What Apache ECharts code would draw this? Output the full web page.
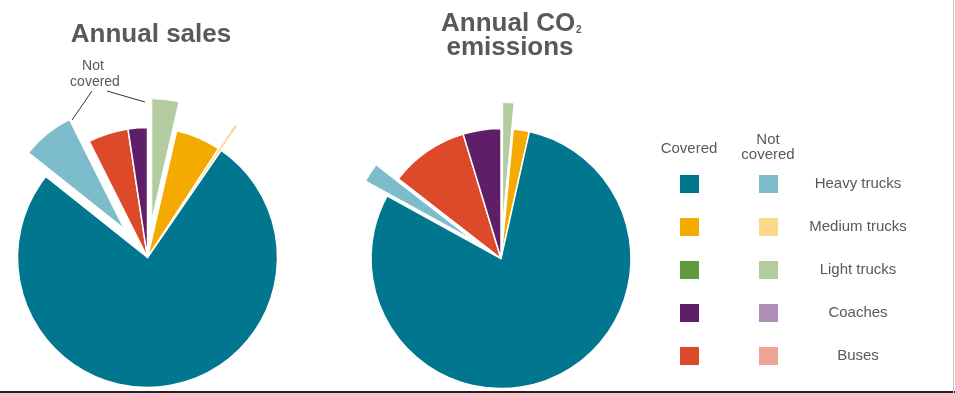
<!DOCTYPE html>
<html>
<head>
<meta charset="utf-8">
<script src="https://cdn.jsdelivr.net/npm/echarts@6/dist/echarts.min.js"></script>
<style>
html,body{margin:0;padding:0;background:#fff;}
#chart{width:955px;height:393px;}
</style>
</head>
<body>
<div id="chart"></div>
<script>
// ---- data ----
const categories = ['Heavy trucks', 'Medium trucks', 'Light trucks', 'Coaches', 'Buses'];
const coveredColors = ['#00778F', '#F4AA00', '#5F9A3C', '#5E1F68', '#DC4A2A'];
const notCoveredColors = ['#7DBCCB', '#F9D88A', '#B3CC9F', '#B08EB8', '#EFA595'];

// Annual sales slices, clockwise from 12 o'clock (share, %)
const salesCats = ['Light trucks', 'Medium trucks', 'Medium trucks', 'Heavy trucks', 'Heavy trucks', 'Buses', 'Coaches'];
const salesCovered = [false, true, false, true, false, true, true];
const salesValues = [3.6, 5.6, 0.4, 76.1, 6.9, 5.0, 2.4];

// Annual CO2 emissions slices, clockwise from 12 o'clock (share, %)
const co2Cats = ['Light trucks', 'Medium trucks', 'Heavy trucks', 'Heavy trucks', 'Buses', 'Coaches'];
const co2Covered = [false, true, true, false, true, true];
const co2Values = [1.5, 2.0, 79.5, 2.5, 9.8, 4.7];

// ---- build ----
const chart = echarts.init(document.getElementById('chart'), null, {renderer: 'canvas'});
const TRANSP = 'rgba(0,0,0,0)';

function colorOf(cat, covered) {
  const i = categories.indexOf(cat);
  return covered ? coveredColors[i] : notCoveredColors[i];
}

function pieSeries(cats, covered, values, center, offset) {
  const base = {
    type: 'pie', center: center, startAngle: 90, clockwise: true,
    silent: true, animation: false, avoidLabelOverlap: false,
    label: {show: false}, labelLine: {show: false},
    emphasis: {disabled: true}
  };
  const main = Object.assign({}, base, {
    radius: [0, 130],
    data: values.map((v, i) => ({
      name: cats[i] + (covered[i] ? ' covered' : ' not covered'),
      value: v,
      itemStyle: covered[i]
        ? {color: colorOf(cats[i], true), borderColor: '#fff', borderWidth: 1.5}
        : {color: TRANSP, borderWidth: 0}
    }))
  });
  const exploded = Object.assign({}, base, {
    radius: [0, 121],
    selectedMode: 'multiple',
    selectedOffset: offset,
    select: {itemStyle: {borderColor: '#fff', borderWidth: 1}},
    data: values.map((v, i) => ({
      name: cats[i] + (covered[i] ? ' covered' : ' not covered'),
      value: v,
      selected: !covered[i],
      itemStyle: covered[i]
        ? {color: TRANSP, borderWidth: 0}
        : {color: colorOf(cats[i], false), borderColor: '#fff', borderWidth: 1}
    }))
  });
  return [main, exploded];
}

const txt = '#595959';
const graphics = [
  {type: 'text', style: {text: 'Annual sales', x: 151, y: 35, align: 'center', verticalAlign: 'middle',
    font: 'bold 26px "Liberation Sans", Arial, sans-serif', fill: txt}},
  {type: 'text', style: {text: 'Annual CO', x: 441, y: 24, align: 'left', verticalAlign: 'middle',
    font: 'bold 26px "Liberation Sans", Arial, sans-serif', fill: txt}},
  {type: 'text', style: {text: '2', x: 576, y: 30, align: 'left', verticalAlign: 'middle',
    font: 'bold 10px "Liberation Sans", Arial, sans-serif', fill: txt}},
  {type: 'text', style: {text: 'emissions', x: 510, y: 48, align: 'center', verticalAlign: 'middle',
    font: 'bold 26px "Liberation Sans", Arial, sans-serif', fill: txt}},
  // "Not covered" annotation
  {type: 'text', style: {text: 'Not', x: 93, y: 66, align: 'center', verticalAlign: 'middle',
    font: '14px "Liberation Sans", Arial, sans-serif', fill: txt}},
  {type: 'text', style: {text: 'covered', x: 95, y: 82, align: 'center', verticalAlign: 'middle',
    font: '14px "Liberation Sans", Arial, sans-serif', fill: txt}},
  {type: 'line', shape: {x1: 92, y1: 91, x2: 72, y2: 120}, style: {stroke: '#333', lineWidth: 1}},
  {type: 'line', shape: {x1: 107, y1: 91, x2: 145, y2: 102}, style: {stroke: '#333', lineWidth: 1}},
  // legend headers
  {type: 'text', style: {text: 'Covered', x: 689, y: 149, align: 'center', verticalAlign: 'middle',
    font: '15px "Liberation Sans", Arial, sans-serif', fill: txt}},
  {type: 'text', style: {text: 'Not', x: 768, y: 140, align: 'center', verticalAlign: 'middle',
    font: '15px "Liberation Sans", Arial, sans-serif', fill: txt}},
  {type: 'text', style: {text: 'covered', x: 768, y: 155, align: 'center', verticalAlign: 'middle',
    font: '15px "Liberation Sans", Arial, sans-serif', fill: txt}},
  // frame lines
  {type: 'rect', shape: {x: 0, y: 391, width: 955, height: 2}, style: {fill: '#222'}},
  {type: 'rect', shape: {x: 953, y: 0, width: 1, height: 393}, style: {fill: '#c8c8c8'}}
];
categories.forEach((c, i) => {
  const cy = 184 + i * 43;
  graphics.push({type: 'rect', shape: {x: 680, y: cy - 9, width: 19, height: 18}, style: {fill: coveredColors[i]}});
  graphics.push({type: 'rect', shape: {x: 759, y: cy - 9, width: 19, height: 18}, style: {fill: notCoveredColors[i]}});
  graphics.push({type: 'text', style: {text: c, x: 858, y: cy, align: 'center', verticalAlign: 'middle',
    font: '15px "Liberation Sans", Arial, sans-serif', fill: txt}});
});

chart.setOption({
  backgroundColor: '#fff',
  animation: false,
  series: [].concat(
    pieSeries(salesCats, salesCovered, salesValues, [147.5, 257.5], 38),
    pieSeries(co2Cats, co2Covered, co2Values, [501, 258.5], 35)
  ),
  graphic: graphics
});
</script>
</body>
</html>
